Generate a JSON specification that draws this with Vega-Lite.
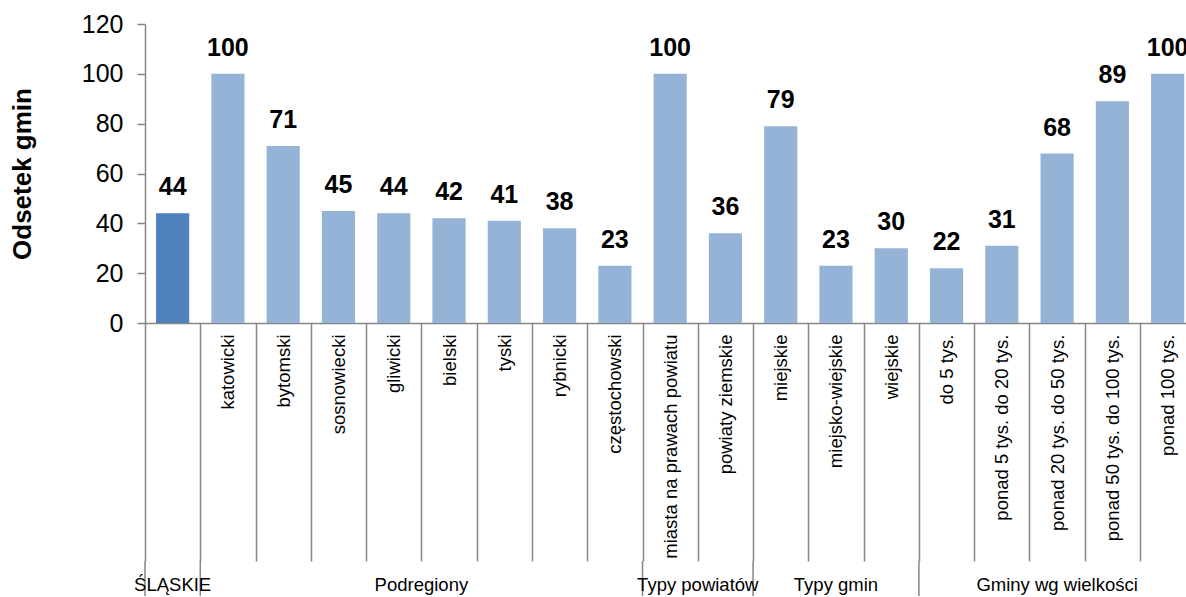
{
  "$schema": "https://vega.github.io/schema/vega-lite/v6.json",
  "autosize": {"type": "pad"},
  "padding": {"left": 9, "top": 12, "right": 0, "bottom": 0},
  "bounds": "flush",
  "spacing": 238,
  "config": {
    "view": {"stroke": null},
    "font": "Liberation Sans",
    "text": {"font": "Liberation Sans"}
  },
  "datasets": {
    "dane": [
      {"kategoria": "ŚLĄSKIE", "grupa": "ŚLĄSKIE", "poziom": "województwo", "odsetek": 44},
      {"kategoria": "katowicki", "grupa": "Podregiony", "poziom": "przekrój", "odsetek": 100},
      {"kategoria": "bytomski", "grupa": "Podregiony", "poziom": "przekrój", "odsetek": 71},
      {"kategoria": "sosnowiecki", "grupa": "Podregiony", "poziom": "przekrój", "odsetek": 45},
      {"kategoria": "gliwicki", "grupa": "Podregiony", "poziom": "przekrój", "odsetek": 44},
      {"kategoria": "bielski", "grupa": "Podregiony", "poziom": "przekrój", "odsetek": 42},
      {"kategoria": "tyski", "grupa": "Podregiony", "poziom": "przekrój", "odsetek": 41},
      {"kategoria": "rybnicki", "grupa": "Podregiony", "poziom": "przekrój", "odsetek": 38},
      {"kategoria": "częstochowski", "grupa": "Podregiony", "poziom": "przekrój", "odsetek": 23},
      {"kategoria": "miasta na prawach powiatu", "grupa": "Typy powiatów", "poziom": "przekrój", "odsetek": 100},
      {"kategoria": "powiaty ziemskie", "grupa": "Typy powiatów", "poziom": "przekrój", "odsetek": 36},
      {"kategoria": "miejskie", "grupa": "Typy gmin", "poziom": "przekrój", "odsetek": 79},
      {"kategoria": "miejsko-wiejskie", "grupa": "Typy gmin", "poziom": "przekrój", "odsetek": 23},
      {"kategoria": "wiejskie", "grupa": "Typy gmin", "poziom": "przekrój", "odsetek": 30},
      {"kategoria": "do 5 tys.", "grupa": "Gminy wg wielkości", "poziom": "przekrój", "odsetek": 22},
      {"kategoria": "ponad 5 tys. do 20 tys.", "grupa": "Gminy wg wielkości", "poziom": "przekrój", "odsetek": 31},
      {"kategoria": "ponad 20 tys. do 50 tys.", "grupa": "Gminy wg wielkości", "poziom": "przekrój", "odsetek": 68},
      {"kategoria": "ponad 50 tys. do 100 tys.", "grupa": "Gminy wg wielkości", "poziom": "przekrój", "odsetek": 89},
      {"kategoria": "ponad 100 tys.", "grupa": "Gminy wg wielkości", "poziom": "przekrój", "odsetek": 100}
    ],
    "grupy": [
      {"grupa": "ŚLĄSKIE", "pierwsza": "ŚLĄSKIE", "srodek": "ŚLĄSKIE", "liczba": 1},
      {"grupa": "Podregiony", "pierwsza": "katowicki", "srodek": "bielski", "liczba": 8},
      {"grupa": "Typy powiatów", "pierwsza": "miasta na prawach powiatu", "srodek": "powiaty ziemskie", "liczba": 2},
      {"grupa": "Typy gmin", "pierwsza": "miejskie", "srodek": "miejsko-wiejskie", "liczba": 3},
      {"grupa": "Gminy wg wielkości", "pierwsza": "do 5 tys.", "srodek": "ponad 20 tys. do 50 tys.", "liczba": 5}
    ]
  },
  "vconcat": [
    {
      "width": 1041,
      "height": 299,
      "data": {"name": "dane"},
      "encoding": {
        "x": {
          "field": "kategoria",
          "type": "nominal",
          "sort": null,
          "scale": {
            "domain": ["ŚLĄSKIE", "katowicki", "bytomski", "sosnowiecki", "gliwicki", "bielski", "tyski", "rybnicki", "częstochowski", "miasta na prawach powiatu", "powiaty ziemskie", "miejskie", "miejsko-wiejskie", "wiejskie", "do 5 tys.", "ponad 5 tys. do 20 tys.", "ponad 20 tys. do 50 tys.", "ponad 50 tys. do 100 tys.", "ponad 100 tys."],
            "range": [0, 1050.3],
            "paddingInner": 0,
            "paddingOuter": 0
          },
          "axis": {
            "title": null,
            "labelAngle": 270,
            "labelAlign": "right",
            "labelBaseline": "middle",
            "labelFontSize": 18.5,
            "labelColor": "#000000",
            "labelLimit": 400,
            "labelOverlap": false,
            "labelBound": false,
            "labelPadding": -227,
            "labelExpr": "datum.value == 'ŚLĄSKIE' ? '' : datum.value",
            "tickBand": "extent",
            "tickSize": 238,
            "tickColor": "#868686",
            "tickWidth": 1.5,
            "domainColor": "#868686",
            "domainWidth": 1.5
          }
        },
        "y": {
          "field": "odsetek",
          "type": "quantitative",
          "scale": {"domain": [0, 120]},
          "axis": {
            "title": "Odsetek gmin",
            "titleFontSize": 26,
            "titleFontWeight": "bold",
            "titleColor": "#000000",
            "titlePadding": 46,
            "values": [0, 20, 40, 60, 80, 100, 120],
            "labelFontSize": 25,
            "labelColor": "#000000",
            "labelPadding": 14,
            "tickSize": 8,
            "tickColor": "#868686",
            "tickWidth": 1.5,
            "domainColor": "#868686",
            "domainWidth": 1.5,
            "grid": false
          }
        }
      },
      "layer": [
        {
          "mark": {"type": "bar", "width": {"band": 0.6}},
          "encoding": {
            "color": {
              "field": "poziom",
              "type": "nominal",
              "scale": {"domain": ["województwo", "przekrój"], "range": ["#4F81BD", "#95B3D7"]},
              "legend": null
            }
          }
        },
        {
          "mark": {"type": "text", "fontSize": 25, "fontWeight": "bold", "baseline": "alphabetic", "dy": -18, "color": "#000000"},
          "encoding": {
            "text": {"field": "odsetek", "type": "quantitative"}
          }
        }
      ]
    },
    {
      "width": 1041,
      "height": 35,
      "data": {"name": "grupy"},
      "layer": [
        {
          "mark": {"type": "rule", "color": "#868686", "strokeWidth": 1.5},
          "encoding": {
            "x": {
              "field": "pierwsza",
              "type": "nominal",
              "bandPosition": 0,
              "scale": {
                "domain": ["ŚLĄSKIE", "katowicki", "bytomski", "sosnowiecki", "gliwicki", "bielski", "tyski", "rybnicki", "częstochowski", "miasta na prawach powiatu", "powiaty ziemskie", "miejskie", "miejsko-wiejskie", "wiejskie", "do 5 tys.", "ponad 5 tys. do 20 tys.", "ponad 20 tys. do 50 tys.", "ponad 50 tys. do 100 tys.", "ponad 100 tys."],
                "range": [0, 1050.3],
                "paddingInner": 0,
                "paddingOuter": 0
              },
              "axis": null
            }
          }
        },
        {
          "transform": [{"filter": "datum.liczba % 2 == 1"}],
          "mark": {"type": "text", "fontSize": 18.5, "color": "#000000", "baseline": "middle", "dy": 6},
          "encoding": {
            "x": {"field": "srodek", "type": "nominal", "bandPosition": 0.5, "axis": null},
            "text": {"field": "grupa"}
          }
        },
        {
          "transform": [{"filter": "datum.liczba % 2 == 0"}],
          "mark": {"type": "text", "fontSize": 18.5, "color": "#000000", "baseline": "middle", "dy": 6},
          "encoding": {
            "x": {"field": "srodek", "type": "nominal", "bandPosition": 0, "axis": null},
            "text": {"field": "grupa"}
          }
        }
      ]
    }
  ]
}
